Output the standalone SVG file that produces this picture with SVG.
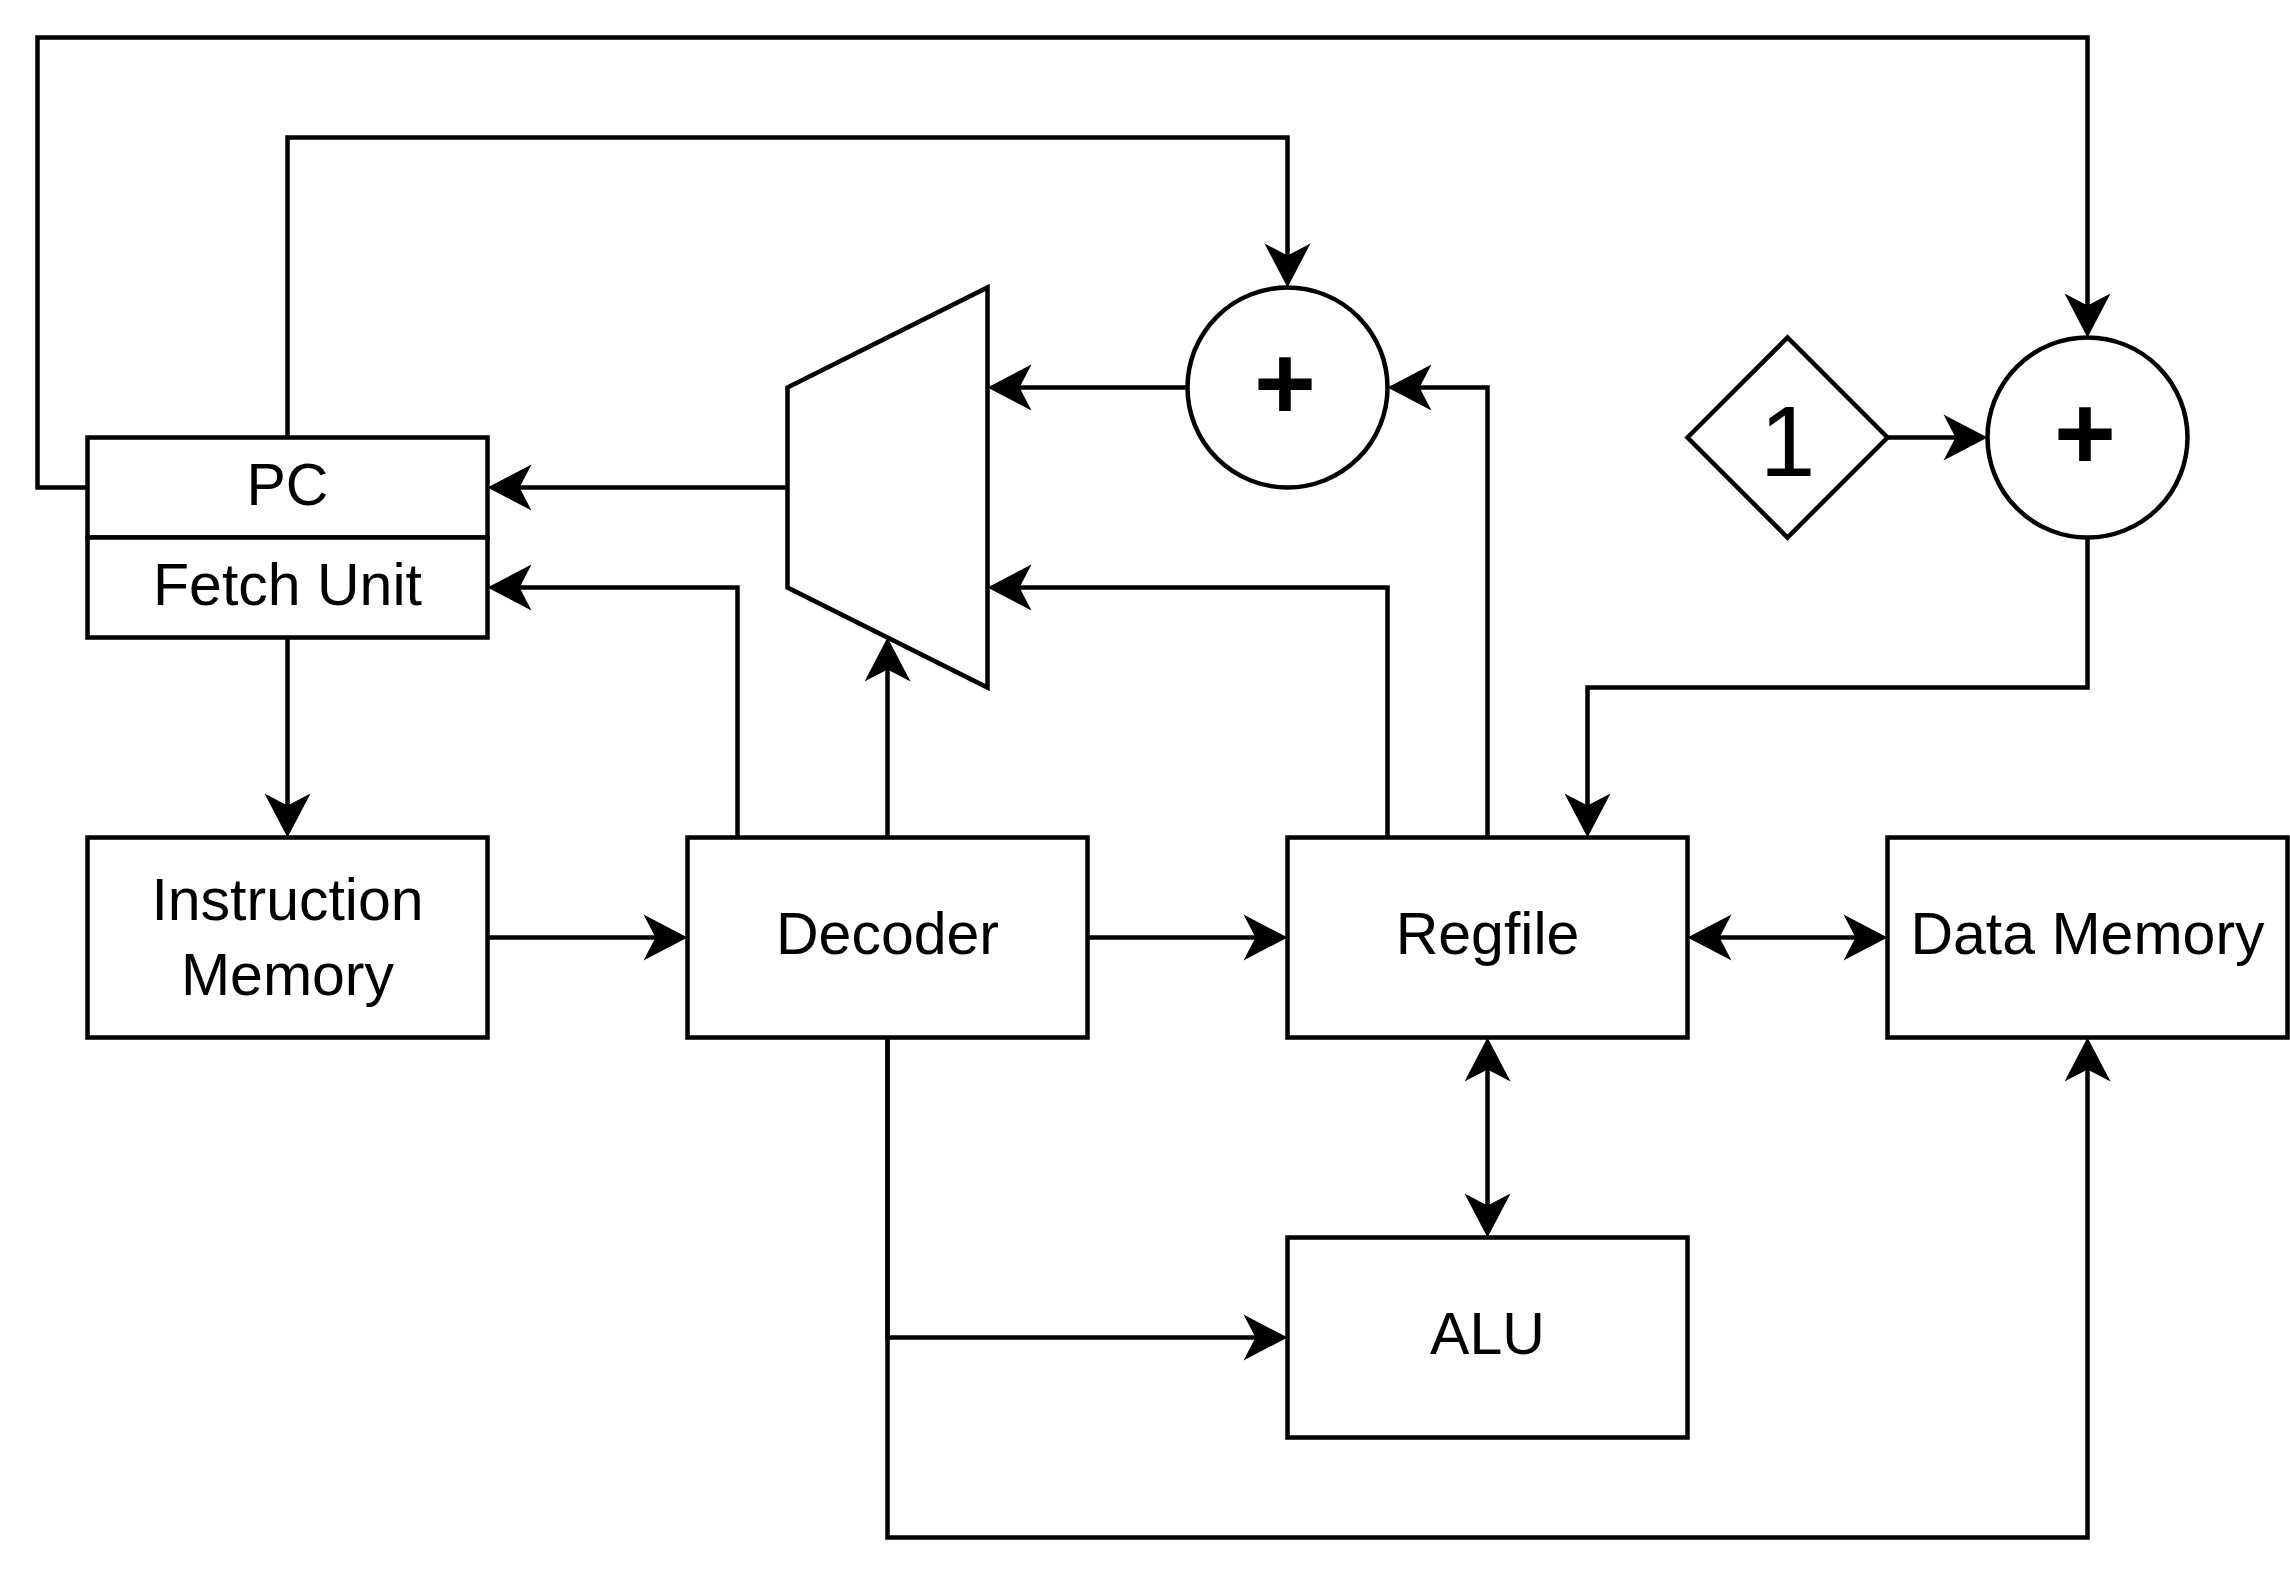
<svg xmlns="http://www.w3.org/2000/svg" width="2290" height="1580" viewBox="0 0 2290 1580">
<style>
.n{fill:#fff;stroke:#000;stroke-width:4.5}
.t{font-family:"Liberation Sans",Arial,sans-serif;font-size:59px;fill:#000;text-anchor:middle}
.p{font-family:"Liberation Sans",Arial,sans-serif;font-size:106px;font-weight:bold;fill:#000;text-anchor:middle}
.one{font-family:"Liberation Sans",Arial,sans-serif;font-size:100px;fill:#000;text-anchor:middle}
.c{fill:none;stroke:#000;stroke-width:4.5;marker-end:url(#a)}
.b{marker-start:url(#a)}
</style>
<defs>
<marker id="a" markerUnits="userSpaceOnUse" markerWidth="60" markerHeight="60" viewBox="-20 -30 60 60" refX="0" refY="0" orient="auto-start-reverse" overflow="visible">
<path d="M30,0 L-14,-23 L-2,0 L-14,23 Z" fill="#000"/>
</marker>
</defs>
<rect width="2290" height="1580" fill="#fff"/>
<g id="pc"><rect class="n" x="87.5" y="437.5" width="400" height="100"/><text class="t" x="287.5" y="504.5">PC</text></g>
<g id="fetch"><rect class="n" x="87.5" y="537.5" width="400" height="100"/><text class="t" x="287.5" y="605">Fetch Unit</text></g>
<g id="imem"><rect class="n" x="87.5" y="837.5" width="400" height="200"/><text class="t" x="287.5" y="920">Instruction</text><text class="t" x="287.5" y="995">Memory</text></g>
<g id="decoder"><rect class="n" x="687.5" y="837.5" width="400" height="200"/><text class="t" x="887.5" y="954">Decoder</text></g>
<g id="regfile"><rect class="n" x="1287.5" y="837.5" width="400" height="200"/><text class="t" x="1487.5" y="954">Regfile</text></g>
<g id="dmem"><rect class="n" x="1887.5" y="837.5" width="400" height="200"/><text class="t" x="2087.5" y="954">Data Memory</text></g>
<g id="alu"><rect class="n" x="1287.5" y="1237.5" width="400" height="200"/><text class="t" x="1487.5" y="1354">ALU</text></g>
<g id="mux"><polygon class="n" points="787.5,387.5 987.5,287.5 987.5,687.5 787.5,587.5"/></g>
<g id="add1"><circle class="n" cx="1287.5" cy="387.5" r="100"/><text class="p" x="1285" y="419">+</text></g>
<g id="add2"><circle class="n" cx="2087.5" cy="437.5" r="100"/><text class="p" x="2085" y="469">+</text></g>
<g id="const1"><polygon class="n" points="1687.5,437.5 1787.5,337.5 1887.5,437.5 1787.5,537.5"/><text class="one" x="1787.5" y="475.5">1</text></g>
<g id="connectors">
<path class="c" d="M287.5,637.5 V807.5"/>
<path class="c" d="M487.5,937.5 H657.5"/>
<path class="c" d="M1087.5,937.5 H1257.5"/>
<path class="c b" d="M1717.5,937.5 H1857.5"/>
<path class="c b" d="M1487.5,1067.5 V1207.5"/>
<path class="c" d="M887.5,1037.5 V1337.5 H1257.5"/>
<path class="c" d="M887.5,1037.5 V1537.5 H2087.5 V1067.5"/>
<path class="c" d="M887.5,837.5 V667.5"/>
<path class="c" d="M737.5,837.5 V587.5 H517.5"/>
<path class="c" d="M787.5,487.5 H517.5"/>
<path class="c" d="M1187.5,387.5 H1017.5"/>
<path class="c" d="M1387.5,837.5 V587.5 H1017.5"/>
<path class="c" d="M1487.5,837.5 V387.5 H1417.5"/>
<path class="c" d="M287.5,437.5 V137.5 H1287.5 V257.5"/>
<path class="c" d="M87.5,487.5 H37.5 V37.5 H2087.5 V307.5"/>
<path class="c" d="M1887.5,437.5 H1957.5"/>
<path class="c" d="M2087.5,537.5 V687.5 H1587.5 V807.5"/>
</g>
</svg>
